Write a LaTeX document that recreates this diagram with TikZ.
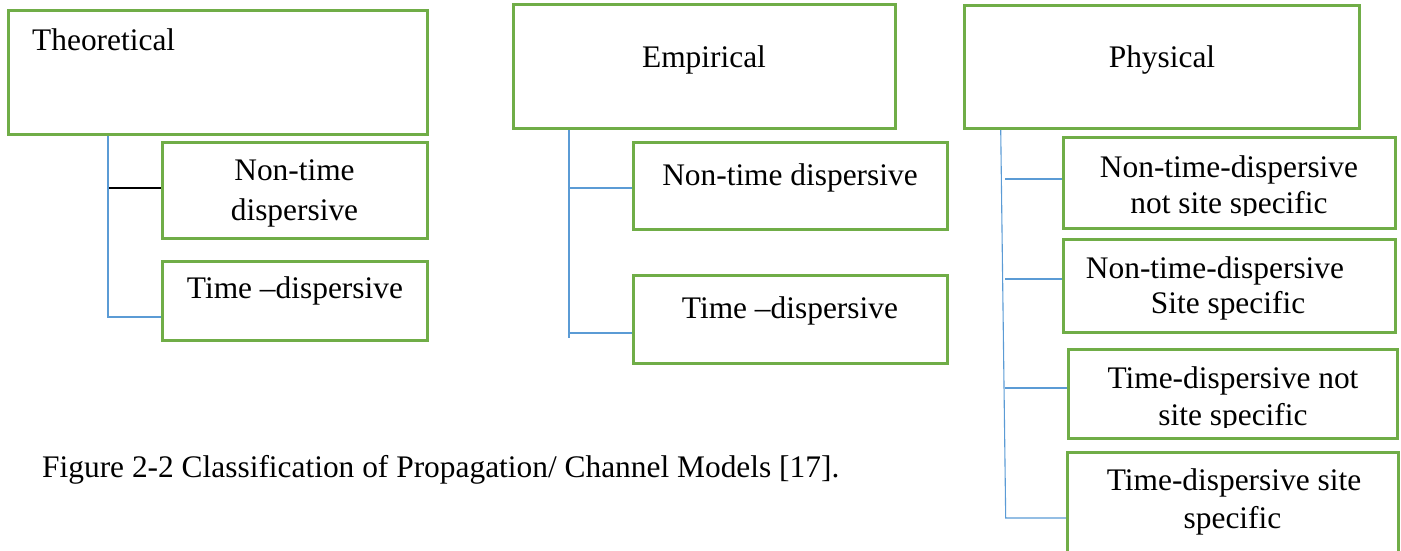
\documentclass[tikz,border=0pt]{standalone}
\usepackage{fontspec}
\setmainfont{Liberation Serif}
\definecolor{boxgreen}{RGB}{112,173,71}
\definecolor{linkblue}{RGB}{91,155,213}
\begin{document}
\begin{tikzpicture}[x=1pt,y=-1pt,
  box/.style={draw=boxgreen, line width=3pt, fill=white, inner sep=0pt, outer sep=0pt},
  conn/.style={draw=linkblue, line width=1.1pt},
  blk/.style={draw=black, line width=1.8pt},
  lbl/.style={anchor=base, inner sep=0pt, font=\fontsize{31.4}{40}\selectfont},
  lblw/.style={anchor=base west, inner sep=0pt, font=\fontsize{31.4}{40}\selectfont}]
\useasboundingbox (0,0) rectangle (1401,550);
% connector coordinates
\coordinate (tv0) at (108,134);
\coordinate (tv1) at (108,317);
\coordinate (tb0) at (109,188);
\coordinate (ev0) at (569,128);
\coordinate (ev1) at (569,338);
\coordinate (eb1) at (569,188);
\coordinate (eb2) at (569,333);
\coordinate (pv0) at (1000.7,128);
\coordinate (pv1) at (1005.7,518);
\coordinate (pb1) at (1005,179);
\coordinate (pb2) at (1005,279);
\coordinate (pb3) at (1005,388);
% boxes (nodes)
\node[box, minimum width=419pt, minimum height=124pt] (th) at (217.5,72) {};
\node[box, minimum width=265pt, minimum height=96pt] (tnt) at (294.5,190) {};
\node[box, minimum width=265pt, minimum height=79pt] (ttd) at (294.5,300.5) {};
\node[box, minimum width=382pt, minimum height=124pt] (em) at (704,66) {};
\node[box, minimum width=314pt, minimum height=87pt] (ent) at (790,185.5) {};
\node[box, minimum width=314pt, minimum height=88pt] (etd) at (790,319) {};
\node[box, minimum width=395pt, minimum height=123pt] (ph) at (1161.5,66.5) {};
\node[box, minimum width=332pt, minimum height=91pt] (p1) at (1229,182.5) {};
\node[box, minimum width=332pt, minimum height=93pt] (p2) at (1229,285.5) {};
\node[box, minimum width=329pt, minimum height=89pt] (p3) at (1232.5,393.5) {};
\node[box, minimum width=331pt, minimum height=118pt] (p4) at (1232.5,511) {};
% connectors
\draw[conn] (tv0) -- (tv1) -- (ttd.west |- tv1);
\draw[conn] (tv0) -- (th.south -| tnt.west);
\draw[blk] (tb0) -- (tnt.west |- tb0);
\draw[conn] (ev0) -- (ev1);
\draw[conn] (eb1) -- (ent.west |- eb1);
\draw[conn] (eb2) -- (etd.west |- eb2);
\draw[conn] (pv0) -- (pv1) -- (p4.west |- pv1);
\draw[conn] (pb1) -- (p1.west |- pb1);
\draw[conn] (pb2) -- (p2.west |- pb2);
\draw[conn] (pb3) -- (p3.west |- pb3);
% redraw box borders over connector ends
\foreach \b in {th,tnt,ttd,em,ent,etd,ph,p1,p2,p3,p4}
  \draw[draw=boxgreen, line width=3pt] (\b.north west) rectangle (\b.south east);
% texts
\node[lblw] (tTh) at (32,50) {Theoretical};
\node[lbl] (tNt1) at (294.5,180) {Non-time};
\node[lbl] (tNt2) at (294.5,220) {dispersive};
\node[lbl] (tTd) at (295,298) {Time –dispersive};
\node[lbl] (tEm) at (704,67) {Empirical};
\node[lbl] (tENt) at (790,185) {Non-time dispersive};
\node[lbl] (tETd) at (790,318) {Time –dispersive};
\node[lbl] (tPh) at (1162,67) {Physical};
\node[lbl] (tP1a) at (1229,177) {Non-time-dispersive};
\begin{scope}
\clip (1063,140) rectangle (1395,215.5);
\node[lbl] (tP1b) at (1229,213) {not site specific};
\end{scope}
\node[lbl] (tP2a) at (1215,278) {Non-time-dispersive};
\node[lbl] (tP2b) at (1228,313) {Site specific};
\node[lbl] (tP3a) at (1233,388) {Time-dispersive not};
\begin{scope}
\clip (1068,352) rectangle (1397,427);
\node[lbl] (tP3b) at (1233,425) {site specific};
\end{scope}
\node[lbl] (tP4a) at (1234,490) {Time-dispersive site};
\node[lbl] (tP4b) at (1232.5,528) {specific};
\node[lblw] (cap) at (42,477) {Figure 2-2 Classification of Propagation/ Channel Models [17].};
\end{tikzpicture}
\end{document}
